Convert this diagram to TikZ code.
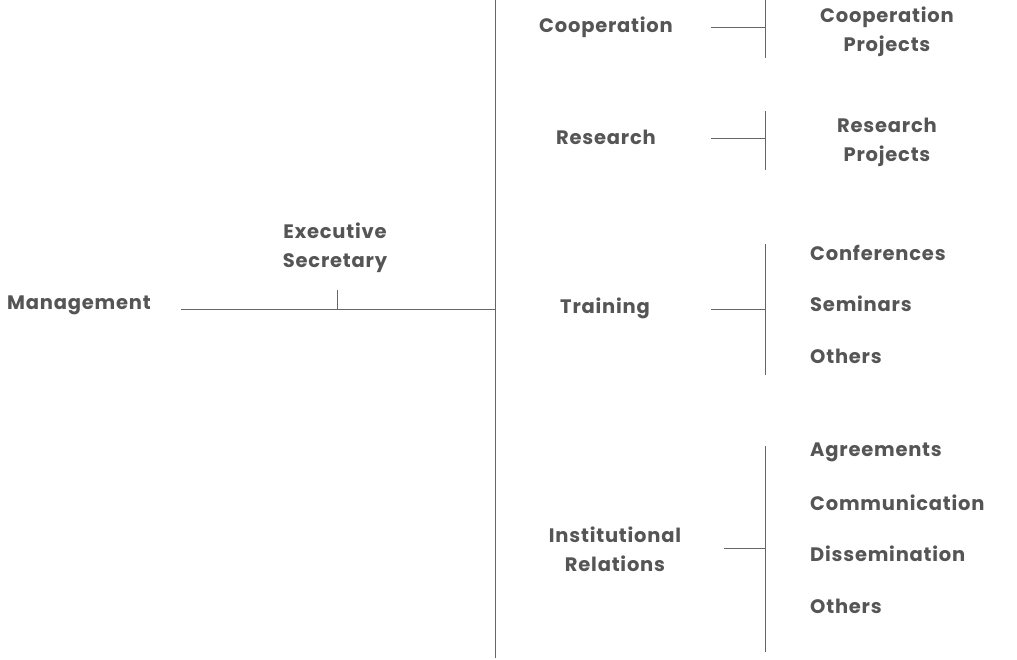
\documentclass[tikz,border=0pt]{standalone}
\usepackage{fontspec}
\setmainfont{Poppins}[LetterSpace=4]
\definecolor{txt}{HTML}{555555}
\definecolor{ln}{HTML}{666666}
\begin{document}
\begin{tikzpicture}[x=1pt,y=-1pt,
  lbl/.style={text=txt,font=\bfseries\fontsize{19.5}{29}\selectfont,align=center,inner sep=0pt},
  lft/.style={lbl,anchor=west},
  con/.style={draw=ln,line width=0.9pt}]
\useasboundingbox (0,0) rectangle (1017,660);
\node[lbl] (mg) at (79,305) {Management};
\node[lbl] (es) at (335,248) {Executive\\Secretary};
\coordinate (m1) at (181,309); \coordinate (m2) at (495,309);
\draw[con] (m1) -- (m2);
\coordinate (t1) at (337,290); \coordinate (t2) at (337,309);
\draw[con] (t1) -- (t2);
\coordinate (v1) at (495,0); \coordinate (v2) at (495,658);
\draw[con] (v1) -- (v2);
% Cooperation
\node[lbl] (co) at (606,27) {Cooperation};
\coordinate (c1) at (711,27); \coordinate (c2) at (765,27);
\draw[con] (c1) -- (c2);
\coordinate (cv1) at (765,0); \coordinate (cv2) at (765,58);
\draw[con] (cv1) -- (cv2);
\node[lbl] (cp) at (887,32) {Cooperation\\Projects};
% Research
\node[lbl] (re) at (606,137) {Research};
\coordinate (r1) at (711,138); \coordinate (r2) at (765,138);
\draw[con] (r1) -- (r2);
\coordinate (rv1) at (765,111); \coordinate (rv2) at (765,170);
\draw[con] (rv1) -- (rv2);
\node[lbl] (rp) at (887,142) {Research\\Projects};
% Training
\node[lbl] (tr) at (605,308) {Training};
\coordinate (tr1) at (711,309); \coordinate (tr2) at (765,309);
\draw[con] (tr1) -- (tr2);
\coordinate (tv1) at (765,244); \coordinate (tv2) at (765,375);
\draw[con] (tv1) -- (tv2);
\node[lft] (cf) at (810,253) {Conferences};
\node[lft] (se) at (810,304) {Seminars};
\node[lft] (o1) at (810,356) {Others};
% Institutional
\node[lbl] (ir) at (615,549) {Institutional\\Relations};
\coordinate (i1) at (724,548); \coordinate (i2) at (765,548);
\draw[con] (i1) -- (i2);
\coordinate (iv1) at (765,446); \coordinate (iv2) at (765,652);
\draw[con] (iv1) -- (iv2);
\node[lft] (ag) at (810,452) {Agreements};
\node[lft] (cm) at (810,503) {Communication};
\node[lft] (di) at (810,554) {Dissemination};
\node[lft] (o2) at (810,606) {Others};
\end{tikzpicture}
\end{document}
